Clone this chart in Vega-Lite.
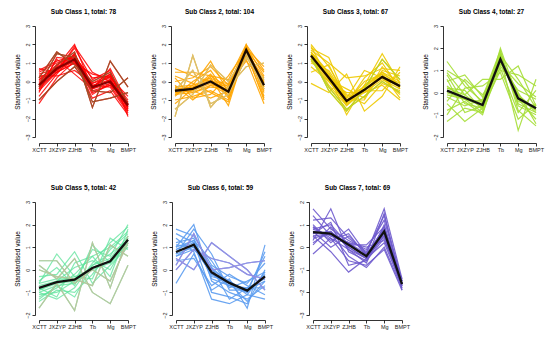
{
"$schema": "https://vega.github.io/schema/vega-lite/v6.json",
"background": "white",
"padding": {"left": 14, "top": 8, "right": 5, "bottom": 5},
"config": {"font": "Liberation Sans", "view": {"stroke": null},
  "axis": {"grid": false, "domainColor": "#000", "tickColor": "#000", "labelColor": "#222", "labelFontSize": 5.5, "titleFontSize": 6.5, "titleFontWeight": "normal", "titleColor": "#000", "tickSize": 3, "domainWidth": 0.8, "tickWidth": 0.8, "labelPadding": 1.5},
  "axisX": {"labelAngle": 0, "offset": 6},
  "axisY": {"labelAngle": -90, "offset": 4, "titlePadding": 5},
  "title": {"fontSize": 6.5, "fontWeight": "bold", "offset": 9, "color": "#000", "anchor": "middle"},
  "line": {"strokeWidth": 1.2}
},
"datasets": {
"c1": [
{"id":0,"k":"XCTT","v":-0.2},{"id":0,"k":"JXZYP","v":0.7},{"id":0,"k":"ZJHB","v":1.2},{"id":0,"k":"Tb","v":-0.3},{"id":0,"k":"Mg","v":0.0},{"id":0,"k":"BMPT","v":-1.3},
{"id":1,"k":"XCTT","v":0.5},{"id":1,"k":"JXZYP","v":1.0},{"id":1,"k":"ZJHB","v":1.3},{"id":1,"k":"Tb","v":0.2},{"id":1,"k":"Mg","v":0.3},{"id":1,"k":"BMPT","v":-1.0},
{"id":2,"k":"XCTT","v":-0.8},{"id":2,"k":"JXZYP","v":0.4},{"id":2,"k":"ZJHB","v":1.5},{"id":2,"k":"Tb","v":-0.6},{"id":2,"k":"Mg","v":-0.2},{"id":2,"k":"BMPT","v":-1.6},
{"id":3,"k":"XCTT","v":0.2},{"id":3,"k":"JXZYP","v":1.6},{"id":3,"k":"ZJHB","v":0.9},{"id":3,"k":"Tb","v":0.0},{"id":3,"k":"Mg","v":0.5},{"id":3,"k":"BMPT","v":-1.2},
{"id":4,"k":"XCTT","v":-1.2},{"id":4,"k":"JXZYP","v":0.2},{"id":4,"k":"ZJHB","v":1.1},{"id":4,"k":"Tb","v":-0.9},{"id":4,"k":"Mg","v":-0.5},{"id":4,"k":"BMPT","v":-1.8},
{"id":5,"k":"XCTT","v":0.0},{"id":5,"k":"JXZYP","v":0.8},{"id":5,"k":"ZJHB","v":2.0},{"id":5,"k":"Tb","v":-0.4},{"id":5,"k":"Mg","v":0.1},{"id":5,"k":"BMPT","v":-1.4},
{"id":6,"k":"XCTT","v":-0.5},{"id":6,"k":"JXZYP","v":0.5},{"id":6,"k":"ZJHB","v":1.0},{"id":6,"k":"Tb","v":0.4},{"id":6,"k":"Mg","v":0.2},{"id":6,"k":"BMPT","v":-0.8},
{"id":7,"k":"XCTT","v":0.6},{"id":7,"k":"JXZYP","v":1.1},{"id":7,"k":"ZJHB","v":1.4},{"id":7,"k":"Tb","v":-0.2},{"id":7,"k":"Mg","v":-0.3},{"id":7,"k":"BMPT","v":-1.7},
{"id":8,"k":"XCTT","v":-0.3},{"id":8,"k":"JXZYP","v":0.9},{"id":8,"k":"ZJHB","v":1.6},{"id":8,"k":"Tb","v":-1.4},{"id":8,"k":"Mg","v":1.1},{"id":8,"k":"BMPT","v":-0.3},
{"id":9,"k":"XCTT","v":0.3},{"id":9,"k":"JXZYP","v":0.3},{"id":9,"k":"ZJHB","v":0.6},{"id":9,"k":"Tb","v":-0.1},{"id":9,"k":"Mg","v":0.4},{"id":9,"k":"BMPT","v":-1.5},
{"id":10,"k":"XCTT","v":-0.6},{"id":10,"k":"JXZYP","v":1.3},{"id":10,"k":"ZJHB","v":1.2},{"id":10,"k":"Tb","v":-0.7},{"id":10,"k":"Mg","v":-0.1},{"id":10,"k":"BMPT","v":-1.1},
{"id":11,"k":"XCTT","v":0.1},{"id":11,"k":"JXZYP","v":0.6},{"id":11,"k":"ZJHB","v":1.8},{"id":11,"k":"Tb","v":0.1},{"id":11,"k":"Mg","v":0.6},{"id":11,"k":"BMPT","v":-1.9},
{"id":12,"k":"XCTT","v":-1.0},{"id":12,"k":"JXZYP","v":0.0},{"id":12,"k":"ZJHB","v":0.8},{"id":12,"k":"Tb","v":-0.5},{"id":12,"k":"Mg","v":-0.6},{"id":12,"k":"BMPT","v":0.2},
{"id":13,"k":"XCTT","v":0.4},{"id":13,"k":"JXZYP","v":0.7},{"id":13,"k":"ZJHB","v":1.1},{"id":13,"k":"Tb","v":-0.3},{"id":13,"k":"Mg","v":0.3},{"id":13,"k":"BMPT","v":-1.3},
{"id":14,"k":"XCTT","v":-0.2},{"id":14,"k":"JXZYP","v":1.5},{"id":14,"k":"ZJHB","v":1.3},{"id":14,"k":"Tb","v":-1.1},{"id":14,"k":"Mg","v":-0.9},{"id":14,"k":"BMPT","v":-0.6},
{"id":15,"k":"XCTT","v":0.7},{"id":15,"k":"JXZYP","v":0.5},{"id":15,"k":"ZJHB","v":1.9},{"id":15,"k":"Tb","v":0.5},{"id":15,"k":"Mg","v":0.0},{"id":15,"k":"BMPT","v":-1.6},
{"id":16,"k":"XCTT","v":-0.4},{"id":16,"k":"JXZYP","v":1.2},{"id":16,"k":"ZJHB","v":0.4},{"id":16,"k":"Tb","v":-0.4},{"id":16,"k":"Mg","v":0.7},{"id":16,"k":"BMPT","v":-1.2},
{"id":17,"k":"XCTT","v":-0.1},{"id":17,"k":"JXZYP","v":0.8},{"id":17,"k":"ZJHB","v":1.3},{"id":17,"k":"Tb","v":-0.2},{"id":17,"k":"Mg","v":0.1},{"id":17,"k":"BMPT","v":-1.2},
{"id":18,"k":"XCTT","v":-0.4},{"id":18,"k":"JXZYP","v":0.6},{"id":18,"k":"ZJHB","v":1.1},{"id":18,"k":"Tb","v":-0.4},{"id":18,"k":"Mg","v":-0.1},{"id":18,"k":"BMPT","v":-1.4},
{"id":19,"k":"XCTT","v":0.1},{"id":19,"k":"JXZYP","v":0.9},{"id":19,"k":"ZJHB","v":1.4},{"id":19,"k":"Tb","v":-0.1},{"id":19,"k":"Mg","v":0.2},{"id":19,"k":"BMPT","v":-1.5},
{"id":20,"k":"XCTT","v":-0.3},{"id":20,"k":"JXZYP","v":0.5},{"id":20,"k":"ZJHB","v":1.0},{"id":20,"k":"Tb","v":-0.5},{"id":20,"k":"Mg","v":-0.2},{"id":20,"k":"BMPT","v":-1.1},
{"id":21,"k":"XCTT","v":0.2},{"id":21,"k":"JXZYP","v":0.7},{"id":21,"k":"ZJHB","v":1.5},{"id":21,"k":"Tb","v":-0.3},{"id":21,"k":"Mg","v":0.4},{"id":21,"k":"BMPT","v":-1.4}
],
"c2": [
{"id":0,"k":"XCTT","v":-0.5},{"id":0,"k":"JXZYP","v":-0.4},{"id":0,"k":"ZJHB","v":0.0},{"id":0,"k":"Tb","v":-0.55},{"id":0,"k":"Mg","v":1.7},{"id":0,"k":"BMPT","v":-0.2},
{"id":1,"k":"XCTT","v":0.0},{"id":1,"k":"JXZYP","v":0.2},{"id":1,"k":"ZJHB","v":0.8},{"id":1,"k":"Tb","v":-0.2},{"id":1,"k":"Mg","v":1.9},{"id":1,"k":"BMPT","v":0.3},
{"id":2,"k":"XCTT","v":-1.0},{"id":2,"k":"JXZYP","v":-0.8},{"id":2,"k":"ZJHB","v":-0.5},{"id":2,"k":"Tb","v":-1.0},{"id":2,"k":"Mg","v":1.5},{"id":2,"k":"BMPT","v":-0.9},
{"id":3,"k":"XCTT","v":0.5},{"id":3,"k":"JXZYP","v":0.5},{"id":3,"k":"ZJHB","v":0.3},{"id":3,"k":"Tb","v":0.1},{"id":3,"k":"Mg","v":2.0},{"id":3,"k":"BMPT","v":-0.5},
{"id":4,"k":"XCTT","v":-0.7},{"id":4,"k":"JXZYP","v":-0.2},{"id":4,"k":"ZJHB","v":1.1},{"id":4,"k":"Tb","v":-0.6},{"id":4,"k":"Mg","v":1.6},{"id":4,"k":"BMPT","v":0.2},
{"id":5,"k":"XCTT","v":-0.3},{"id":5,"k":"JXZYP","v":-0.6},{"id":5,"k":"ZJHB","v":-0.3},{"id":5,"k":"Tb","v":-0.4},{"id":5,"k":"Mg","v":1.2},{"id":5,"k":"BMPT","v":-1.2},
{"id":6,"k":"XCTT","v":-1.9},{"id":6,"k":"JXZYP","v":1.4},{"id":6,"k":"ZJHB","v":-1.4},{"id":6,"k":"Tb","v":-0.3},{"id":6,"k":"Mg","v":0.8},{"id":6,"k":"BMPT","v":1.0},
{"id":7,"k":"XCTT","v":-0.4},{"id":7,"k":"JXZYP","v":-0.3},{"id":7,"k":"ZJHB","v":0.2},{"id":7,"k":"Tb","v":-1.3},{"id":7,"k":"Mg","v":1.8},{"id":7,"k":"BMPT","v":-0.6},
{"id":8,"k":"XCTT","v":0.2},{"id":8,"k":"JXZYP","v":-0.9},{"id":8,"k":"ZJHB","v":-0.7},{"id":8,"k":"Tb","v":0.3},{"id":8,"k":"Mg","v":1.7},{"id":8,"k":"BMPT","v":0.5},
{"id":9,"k":"XCTT","v":-0.8},{"id":9,"k":"JXZYP","v":0.0},{"id":9,"k":"ZJHB","v":0.6},{"id":9,"k":"Tb","v":-0.8},{"id":9,"k":"Mg","v":1.4},{"id":9,"k":"BMPT","v":-0.1},
{"id":10,"k":"XCTT","v":-0.6},{"id":10,"k":"JXZYP","v":-0.5},{"id":10,"k":"ZJHB","v":-0.9},{"id":10,"k":"Tb","v":-0.5},{"id":10,"k":"Mg","v":1.9},{"id":10,"k":"BMPT","v":-0.8},
{"id":11,"k":"XCTT","v":0.7},{"id":11,"k":"JXZYP","v":0.3},{"id":11,"k":"ZJHB","v":0.0},{"id":11,"k":"Tb","v":-0.1},{"id":11,"k":"Mg","v":1.1},{"id":11,"k":"BMPT","v":0.0},
{"id":12,"k":"XCTT","v":-1.2},{"id":12,"k":"JXZYP","v":-0.4},{"id":12,"k":"ZJHB","v":0.4},{"id":12,"k":"Tb","v":-0.9},{"id":12,"k":"Mg","v":2.0},{"id":12,"k":"BMPT","v":0.6},
{"id":13,"k":"XCTT","v":-0.2},{"id":13,"k":"JXZYP","v":-1.0},{"id":13,"k":"ZJHB","v":-0.2},{"id":13,"k":"Tb","v":-0.2},{"id":13,"k":"Mg","v":1.6},{"id":13,"k":"BMPT","v":-1.0},
{"id":14,"k":"XCTT","v":-0.5},{"id":14,"k":"JXZYP","v":0.6},{"id":14,"k":"ZJHB","v":-1.2},{"id":14,"k":"Tb","v":-0.7},{"id":14,"k":"Mg","v":1.3},{"id":14,"k":"BMPT","v":0.1},
{"id":15,"k":"XCTT","v":-1.5},{"id":15,"k":"JXZYP","v":-0.7},{"id":15,"k":"ZJHB","v":0.9},{"id":15,"k":"Tb","v":0.0},{"id":15,"k":"Mg","v":1.5},{"id":15,"k":"BMPT","v":-0.4},
{"id":16,"k":"XCTT","v":0.3},{"id":16,"k":"JXZYP","v":-0.1},{"id":16,"k":"ZJHB","v":-0.6},{"id":16,"k":"Tb","v":-1.1},{"id":16,"k":"Mg","v":1.8},{"id":16,"k":"BMPT","v":0.8},
{"id":17,"k":"XCTT","v":-0.4},{"id":17,"k":"JXZYP","v":-0.3},{"id":17,"k":"ZJHB","v":0.1},{"id":17,"k":"Tb","v":-0.5},{"id":17,"k":"Mg","v":1.6},{"id":17,"k":"BMPT","v":-0.3},
{"id":18,"k":"XCTT","v":-0.6},{"id":18,"k":"JXZYP","v":-0.5},{"id":18,"k":"ZJHB","v":-0.1},{"id":18,"k":"Tb","v":-0.6},{"id":18,"k":"Mg","v":1.8},{"id":18,"k":"BMPT","v":-0.1},
{"id":19,"k":"XCTT","v":-0.3},{"id":19,"k":"JXZYP","v":-0.2},{"id":19,"k":"ZJHB","v":0.2},{"id":19,"k":"Tb","v":-0.4},{"id":19,"k":"Mg","v":1.7},{"id":19,"k":"BMPT","v":0.0},
{"id":20,"k":"XCTT","v":-0.7},{"id":20,"k":"JXZYP","v":-0.6},{"id":20,"k":"ZJHB","v":-0.2},{"id":20,"k":"Tb","v":-0.7},{"id":20,"k":"Mg","v":1.6},{"id":20,"k":"BMPT","v":-0.4},
{"id":21,"k":"XCTT","v":-0.5},{"id":21,"k":"JXZYP","v":-0.4},{"id":21,"k":"ZJHB","v":0.3},{"id":21,"k":"Tb","v":-0.3},{"id":21,"k":"Mg","v":1.9},{"id":21,"k":"BMPT","v":-0.3}
],
"c3": [
{"id":0,"k":"XCTT","v":1.4},{"id":0,"k":"JXZYP","v":0.2},{"id":0,"k":"ZJHB","v":-1.05},{"id":0,"k":"Tb","v":-0.45},{"id":0,"k":"Mg","v":0.25},{"id":0,"k":"BMPT","v":-0.25},
{"id":1,"k":"XCTT","v":2.0},{"id":1,"k":"JXZYP","v":0.8},{"id":1,"k":"ZJHB","v":-0.8},{"id":1,"k":"Tb","v":-0.3},{"id":1,"k":"Mg","v":0.5},{"id":1,"k":"BMPT","v":0.0},
{"id":2,"k":"XCTT","v":1.2},{"id":2,"k":"JXZYP","v":-0.3},{"id":2,"k":"ZJHB","v":-1.5},{"id":2,"k":"Tb","v":-0.8},{"id":2,"k":"Mg","v":0.0},{"id":2,"k":"BMPT","v":-0.6},
{"id":3,"k":"XCTT","v":1.6},{"id":3,"k":"JXZYP","v":0.5},{"id":3,"k":"ZJHB","v":-1.2},{"id":3,"k":"Tb","v":0.2},{"id":3,"k":"Mg","v":1.0},{"id":3,"k":"BMPT","v":-0.4},
{"id":4,"k":"XCTT","v":0.8},{"id":4,"k":"JXZYP","v":0.0},{"id":4,"k":"ZJHB","v":-0.6},{"id":4,"k":"Tb","v":-0.6},{"id":4,"k":"Mg","v":-0.2},{"id":4,"k":"BMPT","v":-1.0},
{"id":5,"k":"XCTT","v":1.8},{"id":5,"k":"JXZYP","v":1.3},{"id":5,"k":"ZJHB","v":-1.0},{"id":5,"k":"Tb","v":-1.0},{"id":5,"k":"Mg","v":0.6},{"id":5,"k":"BMPT","v":0.3},
{"id":6,"k":"XCTT","v":-0.1},{"id":6,"k":"JXZYP","v":-0.6},{"id":6,"k":"ZJHB","v":0.4},{"id":6,"k":"Tb","v":-1.6},{"id":6,"k":"Mg","v":-0.8},{"id":6,"k":"BMPT","v":0.8},
{"id":7,"k":"XCTT","v":1.5},{"id":7,"k":"JXZYP","v":0.3},{"id":7,"k":"ZJHB","v":-1.8},{"id":7,"k":"Tb","v":-0.2},{"id":7,"k":"Mg","v":1.5},{"id":7,"k":"BMPT","v":-0.1},
{"id":8,"k":"XCTT","v":1.0},{"id":8,"k":"JXZYP","v":0.6},{"id":8,"k":"ZJHB","v":-0.9},{"id":8,"k":"Tb","v":0.6},{"id":8,"k":"Mg","v":0.2},{"id":8,"k":"BMPT","v":-0.7},
{"id":9,"k":"XCTT","v":1.3},{"id":9,"k":"JXZYP","v":-0.2},{"id":9,"k":"ZJHB","v":-1.3},{"id":9,"k":"Tb","v":-0.5},{"id":9,"k":"Mg","v":-0.5},{"id":9,"k":"BMPT","v":0.5},
{"id":10,"k":"XCTT","v":1.9},{"id":10,"k":"JXZYP","v":0.1},{"id":10,"k":"ZJHB","v":-0.4},{"id":10,"k":"Tb","v":-0.9},{"id":10,"k":"Mg","v":0.8},{"id":10,"k":"BMPT","v":-0.3},
{"id":11,"k":"XCTT","v":0.5},{"id":11,"k":"JXZYP","v":0.9},{"id":11,"k":"ZJHB","v":-1.1},{"id":11,"k":"Tb","v":0.0},{"id":11,"k":"Mg","v":0.4},{"id":11,"k":"BMPT","v":-0.9},
{"id":12,"k":"XCTT","v":1.4},{"id":12,"k":"JXZYP","v":-0.5},{"id":12,"k":"ZJHB","v":-1.6},{"id":12,"k":"Tb","v":-0.4},{"id":12,"k":"Mg","v":1.2},{"id":12,"k":"BMPT","v":0.1},
{"id":13,"k":"XCTT","v":1.1},{"id":13,"k":"JXZYP","v":0.4},{"id":13,"k":"ZJHB","v":-0.7},{"id":13,"k":"Tb","v":-1.2},{"id":13,"k":"Mg","v":-0.1},{"id":13,"k":"BMPT","v":-0.5},
{"id":14,"k":"XCTT","v":1.7},{"id":14,"k":"JXZYP","v":1.0},{"id":14,"k":"ZJHB","v":0.2},{"id":14,"k":"Tb","v":0.3},{"id":14,"k":"Mg","v":0.7},{"id":14,"k":"BMPT","v":0.6},
{"id":15,"k":"XCTT","v":1.5},{"id":15,"k":"JXZYP","v":0.3},{"id":15,"k":"ZJHB","v":-1.0},{"id":15,"k":"Tb","v":-0.4},{"id":15,"k":"Mg","v":0.3},{"id":15,"k":"BMPT","v":-0.2},
{"id":16,"k":"XCTT","v":1.3},{"id":16,"k":"JXZYP","v":0.1},{"id":16,"k":"ZJHB","v":-1.1},{"id":16,"k":"Tb","v":-0.5},{"id":16,"k":"Mg","v":0.2},{"id":16,"k":"BMPT","v":-0.3},
{"id":17,"k":"XCTT","v":1.6},{"id":17,"k":"JXZYP","v":0.4},{"id":17,"k":"ZJHB","v":-0.9},{"id":17,"k":"Tb","v":-0.3},{"id":17,"k":"Mg","v":0.4},{"id":17,"k":"BMPT","v":-0.1},
{"id":18,"k":"XCTT","v":1.2},{"id":18,"k":"JXZYP","v":0.0},{"id":18,"k":"ZJHB","v":-1.2},{"id":18,"k":"Tb","v":-0.6},{"id":18,"k":"Mg","v":0.1},{"id":18,"k":"BMPT","v":-0.4},
{"id":19,"k":"XCTT","v":1.4},{"id":19,"k":"JXZYP","v":0.2},{"id":19,"k":"ZJHB","v":-1.3},{"id":19,"k":"Tb","v":-0.2},{"id":19,"k":"Mg","v":0.5},{"id":19,"k":"BMPT","v":-0.3}
],
"c4": [
{"id":0,"k":"XCTT","v":0.09},{"id":0,"k":"JXZYP","v":-0.23},{"id":0,"k":"ZJHB","v":-0.56},{"id":0,"k":"Tb","v":1.5},{"id":0,"k":"Mg","v":-0.26},{"id":0,"k":"BMPT","v":-0.7},
{"id":1,"k":"XCTT","v":1.4},{"id":1,"k":"JXZYP","v":0.3},{"id":1,"k":"ZJHB","v":-0.4},{"id":1,"k":"Tb","v":1.7},{"id":1,"k":"Mg","v":-0.5},{"id":1,"k":"BMPT","v":-0.9},
{"id":2,"k":"XCTT","v":-1.3},{"id":2,"k":"JXZYP","v":-0.7},{"id":2,"k":"ZJHB","v":-0.9},{"id":2,"k":"Tb","v":1.2},{"id":2,"k":"Mg","v":0.1},{"id":2,"k":"BMPT","v":-0.3},
{"id":3,"k":"XCTT","v":0.5},{"id":3,"k":"JXZYP","v":0.8},{"id":3,"k":"ZJHB","v":-0.2},{"id":3,"k":"Tb","v":1.9},{"id":3,"k":"Mg","v":-0.8},{"id":3,"k":"BMPT","v":-1.5},
{"id":4,"k":"XCTT","v":-0.5},{"id":4,"k":"JXZYP","v":-1.3},{"id":4,"k":"ZJHB","v":-0.7},{"id":4,"k":"Tb","v":1.0},{"id":4,"k":"Mg","v":0.8},{"id":4,"k":"BMPT","v":0.3},
{"id":5,"k":"XCTT","v":0.9},{"id":5,"k":"JXZYP","v":-0.1},{"id":5,"k":"ZJHB","v":0.6},{"id":5,"k":"Tb","v":0.6},{"id":5,"k":"Mg","v":1.2},{"id":5,"k":"BMPT","v":-0.6},
{"id":6,"k":"XCTT","v":0.2},{"id":6,"k":"JXZYP","v":0.1},{"id":6,"k":"ZJHB","v":-0.8},{"id":6,"k":"Tb","v":2.0},{"id":6,"k":"Mg","v":-0.3},{"id":6,"k":"BMPT","v":-1.2},
{"id":7,"k":"XCTT","v":-0.8},{"id":7,"k":"JXZYP","v":-0.4},{"id":7,"k":"ZJHB","v":-1.0},{"id":7,"k":"Tb","v":1.6},{"id":7,"k":"Mg","v":-1.7},{"id":7,"k":"BMPT","v":0.6},
{"id":8,"k":"XCTT","v":1.0},{"id":8,"k":"JXZYP","v":0.5},{"id":8,"k":"ZJHB","v":-0.5},{"id":8,"k":"Tb","v":1.4},{"id":8,"k":"Mg","v":-0.1},{"id":8,"k":"BMPT","v":-0.8},
{"id":9,"k":"XCTT","v":-0.2},{"id":9,"k":"JXZYP","v":-0.6},{"id":9,"k":"ZJHB","v":-0.3},{"id":9,"k":"Tb","v":1.8},{"id":9,"k":"Mg","v":-0.6},{"id":9,"k":"BMPT","v":-1.0},
{"id":10,"k":"XCTT","v":0.6},{"id":10,"k":"JXZYP","v":-0.9},{"id":10,"k":"ZJHB","v":-0.6},{"id":10,"k":"Tb","v":1.3},{"id":10,"k":"Mg","v":0.4},{"id":10,"k":"BMPT","v":-0.2},
{"id":11,"k":"XCTT","v":-1.0},{"id":11,"k":"JXZYP","v":0.2},{"id":11,"k":"ZJHB","v":0.3},{"id":11,"k":"Tb","v":0.9},{"id":11,"k":"Mg","v":-1.2},{"id":11,"k":"BMPT","v":-0.5},
{"id":12,"k":"XCTT","v":0.3},{"id":12,"k":"JXZYP","v":-0.3},{"id":12,"k":"ZJHB","v":-0.9},{"id":12,"k":"Tb","v":1.5},{"id":12,"k":"Mg","v":0.0},{"id":12,"k":"BMPT","v":-1.4},
{"id":13,"k":"XCTT","v":-0.4},{"id":13,"k":"JXZYP","v":0.6},{"id":13,"k":"ZJHB","v":-0.1},{"id":13,"k":"Tb","v":1.1},{"id":13,"k":"Mg","v":-0.9},{"id":13,"k":"BMPT","v":0.1},
{"id":14,"k":"XCTT","v":0.8},{"id":14,"k":"JXZYP","v":-0.5},{"id":14,"k":"ZJHB","v":-0.7},{"id":14,"k":"Tb","v":1.7},{"id":14,"k":"Mg","v":0.6},{"id":14,"k":"BMPT","v":-0.7},
{"id":15,"k":"XCTT","v":0.1},{"id":15,"k":"JXZYP","v":-0.2},{"id":15,"k":"ZJHB","v":-0.5},{"id":15,"k":"Tb","v":1.6},{"id":15,"k":"Mg","v":-0.3},{"id":15,"k":"BMPT","v":-0.7},
{"id":16,"k":"XCTT","v":0.0},{"id":16,"k":"JXZYP","v":-0.3},{"id":16,"k":"ZJHB","v":-0.6},{"id":16,"k":"Tb","v":1.4},{"id":16,"k":"Mg","v":-0.2},{"id":16,"k":"BMPT","v":-0.8},
{"id":17,"k":"XCTT","v":0.2},{"id":17,"k":"JXZYP","v":-0.1},{"id":17,"k":"ZJHB","v":-0.7},{"id":17,"k":"Tb","v":1.5},{"id":17,"k":"Mg","v":-0.4},{"id":17,"k":"BMPT","v":-0.6},
{"id":18,"k":"XCTT","v":-0.1},{"id":18,"k":"JXZYP","v":-0.3},{"id":18,"k":"ZJHB","v":-0.4},{"id":18,"k":"Tb","v":1.6},{"id":18,"k":"Mg","v":-0.1},{"id":18,"k":"BMPT","v":-0.9}
],
"c5": [
{"id":0,"k":"XCTT","v":-0.8},{"id":0,"k":"JXZYP","v":-0.55},{"id":0,"k":"ZJHB","v":-0.44},{"id":0,"k":"Tb","v":0.08},{"id":0,"k":"Mg","v":0.38},{"id":0,"k":"BMPT","v":1.33},
{"id":1,"k":"XCTT","v":-1.2},{"id":1,"k":"JXZYP","v":-0.8},{"id":1,"k":"ZJHB","v":-0.2},{"id":1,"k":"Tb","v":0.6},{"id":1,"k":"Mg","v":1.0},{"id":1,"k":"BMPT","v":1.7},
{"id":2,"k":"XCTT","v":0.4},{"id":2,"k":"JXZYP","v":0.4},{"id":2,"k":"ZJHB","v":-0.6},{"id":2,"k":"Tb","v":0.0},{"id":2,"k":"Mg","v":-0.5},{"id":2,"k":"BMPT","v":1.2},
{"id":3,"k":"XCTT","v":-1.0},{"id":3,"k":"JXZYP","v":-1.3},{"id":3,"k":"ZJHB","v":-0.8},{"id":3,"k":"Tb","v":0.3},{"id":3,"k":"Mg","v":1.2},{"id":3,"k":"BMPT","v":1.9},
{"id":4,"k":"XCTT","v":-0.3},{"id":4,"k":"JXZYP","v":-0.2},{"id":4,"k":"ZJHB","v":0.8},{"id":4,"k":"Tb","v":-0.6},{"id":4,"k":"Mg","v":0.2},{"id":4,"k":"BMPT","v":1.0},
{"id":5,"k":"XCTT","v":-1.7},{"id":5,"k":"JXZYP","v":-0.6},{"id":5,"k":"ZJHB","v":-1.8},{"id":5,"k":"Tb","v":1.2},{"id":5,"k":"Mg","v":-0.8},{"id":5,"k":"BMPT","v":1.5},
{"id":6,"k":"XCTT","v":-0.6},{"id":6,"k":"JXZYP","v":0.7},{"id":6,"k":"ZJHB","v":-0.3},{"id":6,"k":"Tb","v":-0.4},{"id":6,"k":"Mg","v":1.4},{"id":6,"k":"BMPT","v":0.9},
{"id":7,"k":"XCTT","v":-1.1},{"id":7,"k":"JXZYP","v":-1.0},{"id":7,"k":"ZJHB","v":-0.5},{"id":7,"k":"Tb","v":0.9},{"id":7,"k":"Mg","v":0.6},{"id":7,"k":"BMPT","v":2.0},
{"id":8,"k":"XCTT","v":0.2},{"id":8,"k":"JXZYP","v":-0.4},{"id":8,"k":"ZJHB","v":0.5},{"id":8,"k":"Tb","v":-1.0},{"id":8,"k":"Mg","v":-1.5},{"id":8,"k":"BMPT","v":0.2},
{"id":9,"k":"XCTT","v":-0.9},{"id":9,"k":"JXZYP","v":-0.5},{"id":9,"k":"ZJHB","v":0.1},{"id":9,"k":"Tb","v":0.4},{"id":9,"k":"Mg","v":0.0},{"id":9,"k":"BMPT","v":1.4},
{"id":10,"k":"XCTT","v":-1.4},{"id":10,"k":"JXZYP","v":-0.9},{"id":10,"k":"ZJHB","v":-1.0},{"id":10,"k":"Tb","v":-0.2},{"id":10,"k":"Mg","v":0.9},{"id":10,"k":"BMPT","v":1.6},
{"id":11,"k":"XCTT","v":-0.5},{"id":11,"k":"JXZYP","v":0.1},{"id":11,"k":"ZJHB","v":-0.7},{"id":11,"k":"Tb","v":1.1},{"id":11,"k":"Mg","v":0.3},{"id":11,"k":"BMPT","v":1.1},
{"id":12,"k":"XCTT","v":-0.8},{"id":12,"k":"JXZYP","v":-1.2},{"id":12,"k":"ZJHB","v":0.3},{"id":12,"k":"Tb","v":0.6},{"id":12,"k":"Mg","v":-0.3},{"id":12,"k":"BMPT","v":1.8},
{"id":13,"k":"XCTT","v":0.0},{"id":13,"k":"JXZYP","v":-0.3},{"id":13,"k":"ZJHB","v":-0.4},{"id":13,"k":"Tb","v":-0.7},{"id":13,"k":"Mg","v":1.1},{"id":13,"k":"BMPT","v":0.6},
{"id":14,"k":"XCTT","v":-1.3},{"id":14,"k":"JXZYP","v":-0.7},{"id":14,"k":"ZJHB","v":-1.2},{"id":14,"k":"Tb","v":0.2},{"id":14,"k":"Mg","v":0.7},{"id":14,"k":"BMPT","v":1.3},
{"id":15,"k":"XCTT","v":-0.9},{"id":15,"k":"JXZYP","v":-0.6},{"id":15,"k":"ZJHB","v":-0.5},{"id":15,"k":"Tb","v":0.1},{"id":15,"k":"Mg","v":0.4},{"id":15,"k":"BMPT","v":1.4},
{"id":16,"k":"XCTT","v":-0.7},{"id":16,"k":"JXZYP","v":-0.5},{"id":16,"k":"ZJHB","v":-0.3},{"id":16,"k":"Tb","v":0.0},{"id":16,"k":"Mg","v":0.3},{"id":16,"k":"BMPT","v":1.2},
{"id":17,"k":"XCTT","v":-1.0},{"id":17,"k":"JXZYP","v":-0.7},{"id":17,"k":"ZJHB","v":-0.6},{"id":17,"k":"Tb","v":0.2},{"id":17,"k":"Mg","v":0.5},{"id":17,"k":"BMPT","v":1.5},
{"id":18,"k":"XCTT","v":-0.6},{"id":18,"k":"JXZYP","v":-0.4},{"id":18,"k":"ZJHB","v":-0.4},{"id":18,"k":"Tb","v":0.1},{"id":18,"k":"Mg","v":0.4},{"id":18,"k":"BMPT","v":1.3}
],
"c6": [
{"id":0,"k":"XCTT","v":0.79},{"id":0,"k":"JXZYP","v":1.11},{"id":0,"k":"ZJHB","v":-0.11},{"id":0,"k":"Tb","v":-0.58},{"id":0,"k":"Mg","v":-0.92},{"id":0,"k":"BMPT","v":-0.29},
{"id":1,"k":"XCTT","v":1.8},{"id":1,"k":"JXZYP","v":1.5},{"id":1,"k":"ZJHB","v":0.2},{"id":1,"k":"Tb","v":-0.3},{"id":1,"k":"Mg","v":-0.6},{"id":1,"k":"BMPT","v":0.3},
{"id":2,"k":"XCTT","v":0.5},{"id":2,"k":"JXZYP","v":0.0},{"id":2,"k":"ZJHB","v":1.2},{"id":2,"k":"Tb","v":0.6},{"id":2,"k":"Mg","v":0.0},{"id":2,"k":"BMPT","v":-0.9},
{"id":3,"k":"XCTT","v":1.0},{"id":3,"k":"JXZYP","v":2.0},{"id":3,"k":"ZJHB","v":-0.5},{"id":3,"k":"Tb","v":-1.0},{"id":3,"k":"Mg","v":-1.3},{"id":3,"k":"BMPT","v":-0.7},
{"id":4,"k":"XCTT","v":-0.6},{"id":4,"k":"JXZYP","v":0.7},{"id":4,"k":"ZJHB","v":-0.9},{"id":4,"k":"Tb","v":-0.4},{"id":4,"k":"Mg","v":-1.7},{"id":4,"k":"BMPT","v":1.1},
{"id":5,"k":"XCTT","v":0.9},{"id":5,"k":"JXZYP","v":1.3},{"id":5,"k":"ZJHB","v":0.4},{"id":5,"k":"Tb","v":-0.8},{"id":5,"k":"Mg","v":-0.5},{"id":5,"k":"BMPT","v":-0.1},
{"id":6,"k":"XCTT","v":1.4},{"id":6,"k":"JXZYP","v":0.8},{"id":6,"k":"ZJHB","v":-1.3},{"id":6,"k":"Tb","v":-1.5},{"id":6,"k":"Mg","v":-1.1},{"id":6,"k":"BMPT","v":-1.3},
{"id":7,"k":"XCTT","v":0.2},{"id":7,"k":"JXZYP","v":1.6},{"id":7,"k":"ZJHB","v":0.0},{"id":7,"k":"Tb","v":0.1},{"id":7,"k":"Mg","v":0.3},{"id":7,"k":"BMPT","v":0.4},
{"id":8,"k":"XCTT","v":1.1},{"id":8,"k":"JXZYP","v":1.0},{"id":8,"k":"ZJHB","v":-0.2},{"id":8,"k":"Tb","v":-0.6},{"id":8,"k":"Mg","v":-1.4},{"id":8,"k":"BMPT","v":-0.5},
{"id":9,"k":"XCTT","v":0.7},{"id":9,"k":"JXZYP","v":1.8},{"id":9,"k":"ZJHB","v":0.7},{"id":9,"k":"Tb","v":-0.9},{"id":9,"k":"Mg","v":-0.9},{"id":9,"k":"BMPT","v":0.6},
{"id":10,"k":"XCTT","v":0.4},{"id":10,"k":"JXZYP","v":0.5},{"id":10,"k":"ZJHB","v":-0.7},{"id":10,"k":"Tb","v":-0.2},{"id":10,"k":"Mg","v":-0.7},{"id":10,"k":"BMPT","v":-1.1},
{"id":11,"k":"XCTT","v":1.6},{"id":11,"k":"JXZYP","v":1.2},{"id":11,"k":"ZJHB","v":-1.0},{"id":11,"k":"Tb","v":-1.2},{"id":11,"k":"Mg","v":-1.5},{"id":11,"k":"BMPT","v":0.0},
{"id":12,"k":"XCTT","v":0.0},{"id":12,"k":"JXZYP","v":0.9},{"id":12,"k":"ZJHB","v":0.5},{"id":12,"k":"Tb","v":0.3},{"id":12,"k":"Mg","v":-0.2},{"id":12,"k":"BMPT","v":-0.4},
{"id":13,"k":"XCTT","v":1.2},{"id":13,"k":"JXZYP","v":1.4},{"id":13,"k":"ZJHB","v":-0.4},{"id":13,"k":"Tb","v":-0.7},{"id":13,"k":"Mg","v":-1.0},{"id":13,"k":"BMPT","v":0.8},
{"id":14,"k":"XCTT","v":0.6},{"id":14,"k":"JXZYP","v":1.1},{"id":14,"k":"ZJHB","v":0.1},{"id":14,"k":"Tb","v":-1.3},{"id":14,"k":"Mg","v":-0.8},{"id":14,"k":"BMPT","v":-0.8},
{"id":15,"k":"XCTT","v":0.8},{"id":15,"k":"JXZYP","v":1.1},{"id":15,"k":"ZJHB","v":-0.1},{"id":15,"k":"Tb","v":-0.6},{"id":15,"k":"Mg","v":-0.9},{"id":15,"k":"BMPT","v":-0.3},
{"id":16,"k":"XCTT","v":0.9},{"id":16,"k":"JXZYP","v":1.2},{"id":16,"k":"ZJHB","v":0.0},{"id":16,"k":"Tb","v":-0.5},{"id":16,"k":"Mg","v":-1.0},{"id":16,"k":"BMPT","v":-0.2},
{"id":17,"k":"XCTT","v":0.7},{"id":17,"k":"JXZYP","v":1.0},{"id":17,"k":"ZJHB","v":-0.2},{"id":17,"k":"Tb","v":-0.7},{"id":17,"k":"Mg","v":-0.8},{"id":17,"k":"BMPT","v":-0.4},
{"id":18,"k":"XCTT","v":1.0},{"id":18,"k":"JXZYP","v":1.3},{"id":18,"k":"ZJHB","v":-0.3},{"id":18,"k":"Tb","v":-0.5},{"id":18,"k":"Mg","v":-1.1},{"id":18,"k":"BMPT","v":-0.1},
{"id":19,"k":"XCTT","v":0.6},{"id":19,"k":"JXZYP","v":0.9},{"id":19,"k":"ZJHB","v":0.1},{"id":19,"k":"Tb","v":-0.6},{"id":19,"k":"Mg","v":-0.9},{"id":19,"k":"BMPT","v":-0.5}
],
"c7": [
{"id":0,"k":"XCTT","v":0.67},{"id":0,"k":"JXZYP","v":0.6},{"id":0,"k":"ZJHB","v":0.11},{"id":0,"k":"Tb","v":-0.4},{"id":0,"k":"Mg","v":0.7},{"id":0,"k":"BMPT","v":-1.63},
{"id":1,"k":"XCTT","v":1.7},{"id":1,"k":"JXZYP","v":0.8},{"id":1,"k":"ZJHB","v":0.3},{"id":1,"k":"Tb","v":-0.1},{"id":1,"k":"Mg","v":1.2},{"id":1,"k":"BMPT","v":-1.5},
{"id":2,"k":"XCTT","v":0.3},{"id":2,"k":"JXZYP","v":1.7},{"id":2,"k":"ZJHB","v":-0.2},{"id":2,"k":"Tb","v":-0.6},{"id":2,"k":"Mg","v":0.4},{"id":2,"k":"BMPT","v":-1.8},
{"id":3,"k":"XCTT","v":1.0},{"id":3,"k":"JXZYP","v":0.2},{"id":3,"k":"ZJHB","v":0.8},{"id":3,"k":"Tb","v":-0.3},{"id":3,"k":"Mg","v":1.7},{"id":3,"k":"BMPT","v":-1.4},
{"id":4,"k":"XCTT","v":-0.3},{"id":4,"k":"JXZYP","v":0.4},{"id":4,"k":"ZJHB","v":-0.6},{"id":4,"k":"Tb","v":-0.8},{"id":4,"k":"Mg","v":-0.1},{"id":4,"k":"BMPT","v":-1.9},
{"id":5,"k":"XCTT","v":0.8},{"id":5,"k":"JXZYP","v":1.0},{"id":5,"k":"ZJHB","v":0.1},{"id":5,"k":"Tb","v":0.1},{"id":5,"k":"Mg","v":0.9},{"id":5,"k":"BMPT","v":-1.6},
{"id":6,"k":"XCTT","v":0.5},{"id":6,"k":"JXZYP","v":-0.2},{"id":6,"k":"ZJHB","v":-1.1},{"id":6,"k":"Tb","v":-0.5},{"id":6,"k":"Mg","v":0.2},{"id":6,"k":"BMPT","v":-1.7},
{"id":7,"k":"XCTT","v":1.2},{"id":7,"k":"JXZYP","v":1.3},{"id":7,"k":"ZJHB","v":0.4},{"id":7,"k":"Tb","v":-0.2},{"id":7,"k":"Mg","v":1.4},{"id":7,"k":"BMPT","v":-1.5},
{"id":8,"k":"XCTT","v":0.4},{"id":8,"k":"JXZYP","v":0.6},{"id":8,"k":"ZJHB","v":-0.4},{"id":8,"k":"Tb","v":-0.9},{"id":8,"k":"Mg","v":0.0},{"id":8,"k":"BMPT","v":-1.8},
{"id":9,"k":"XCTT","v":0.9},{"id":9,"k":"JXZYP","v":0.3},{"id":9,"k":"ZJHB","v":0.6},{"id":9,"k":"Tb","v":-0.4},{"id":9,"k":"Mg","v":0.6},{"id":9,"k":"BMPT","v":-1.6},
{"id":10,"k":"XCTT","v":0.1},{"id":10,"k":"JXZYP","v":0.9},{"id":10,"k":"ZJHB","v":-0.1},{"id":10,"k":"Tb","v":-0.7},{"id":10,"k":"Mg","v":1.0},{"id":10,"k":"BMPT","v":-1.7},
{"id":11,"k":"XCTT","v":1.4},{"id":11,"k":"JXZYP","v":0.5},{"id":11,"k":"ZJHB","v":0.2},{"id":11,"k":"Tb","v":0.0},{"id":11,"k":"Mg","v":0.3},{"id":11,"k":"BMPT","v":-1.4},
{"id":12,"k":"XCTT","v":0.6},{"id":12,"k":"JXZYP","v":1.1},{"id":12,"k":"ZJHB","v":-0.8},{"id":12,"k":"Tb","v":-0.6},{"id":12,"k":"Mg","v":1.5},{"id":12,"k":"BMPT","v":-1.9},
{"id":13,"k":"XCTT","v":0.7},{"id":13,"k":"JXZYP","v":0.0},{"id":13,"k":"ZJHB","v":0.5},{"id":13,"k":"Tb","v":-0.3},{"id":13,"k":"Mg","v":0.8},{"id":13,"k":"BMPT","v":-1.5},
{"id":14,"k":"XCTT","v":0.2},{"id":14,"k":"JXZYP","v":0.7},{"id":14,"k":"ZJHB","v":0.0},{"id":14,"k":"Tb","v":-0.5},{"id":14,"k":"Mg","v":0.5},{"id":14,"k":"BMPT","v":-1.6},
{"id":15,"k":"XCTT","v":0.7},{"id":15,"k":"JXZYP","v":0.6},{"id":15,"k":"ZJHB","v":0.1},{"id":15,"k":"Tb","v":-0.4},{"id":15,"k":"Mg","v":0.7},{"id":15,"k":"BMPT","v":-1.6},
{"id":16,"k":"XCTT","v":0.8},{"id":16,"k":"JXZYP","v":0.5},{"id":16,"k":"ZJHB","v":0.2},{"id":16,"k":"Tb","v":-0.3},{"id":16,"k":"Mg","v":0.8},{"id":16,"k":"BMPT","v":-1.7},
{"id":17,"k":"XCTT","v":0.6},{"id":17,"k":"JXZYP","v":0.7},{"id":17,"k":"ZJHB","v":0.0},{"id":17,"k":"Tb","v":-0.5},{"id":17,"k":"Mg","v":0.6},{"id":17,"k":"BMPT","v":-1.6},
{"id":18,"k":"XCTT","v":0.5},{"id":18,"k":"JXZYP","v":0.6},{"id":18,"k":"ZJHB","v":0.2},{"id":18,"k":"Tb","v":-0.4},{"id":18,"k":"Mg","v":0.9},{"id":18,"k":"BMPT","v":-1.5},
{"id":19,"k":"XCTT","v":0.9},{"id":19,"k":"JXZYP","v":0.4},{"id":19,"k":"ZJHB","v":-0.1},{"id":19,"k":"Tb","v":-0.5},{"id":19,"k":"Mg","v":0.5},{"id":19,"k":"BMPT","v":-1.7}
]
},
"vconcat": [
{"hconcat": [
{"title": "Sub Class 1, total: 78", "width": 89, "height": 111, "data": {"name": "c1"},
 "encoding": {"x": {"field": "k", "type": "ordinal", "sort": ["XCTT","JXZYP","ZJHB","Tb","Mg","BMPT"], "scale": {"type": "point", "padding": 0}, "axis": {"title": null}},
  "y": {"field": "v", "type": "quantitative", "scale": {"domain": [-3, 3]}, "axis": {"values": [-3,-2,-1,0,1,2,3], "title": "Standardised value"}}},
 "layer": [
  {"transform": [{"filter": "datum.id > 0"}], "mark": {"type": "line", "color": "#ff0000", "opacity": 0.85}, "encoding": {"detail": {"field": "id"}}},
  {"transform": [{"filter": {"field": "id", "oneOf": [3, 8, 12, 14]}}], "mark": {"type": "line", "color": "#8b5a2b", "opacity": 0.8}, "encoding": {"detail": {"field": "id"}}},
  {"transform": [{"filter": "datum.id === 0"}], "mark": {"type": "line", "color": "#8b0000", "strokeWidth": 2.3}, "encoding": {}}
 ]},
{"title": "Sub Class 2, total: 104", "width": 89, "height": 111, "data": {"name": "c2"},
 "encoding": {"x": {"field": "k", "type": "ordinal", "sort": ["XCTT","JXZYP","ZJHB","Tb","Mg","BMPT"], "scale": {"type": "point", "padding": 0}, "axis": {"title": null}},
  "y": {"field": "v", "type": "quantitative", "scale": {"domain": [-3, 3]}, "axis": {"values": [-3,-2,-1,0,1,2,3], "title": "Standardised value"}}},
 "layer": [
  {"transform": [{"filter": "datum.id > 0"}], "mark": {"type": "line", "color": "#ffa500", "opacity": 0.9}, "encoding": {"detail": {"field": "id"}}},
  {"transform": [{"filter": {"field": "id", "oneOf": [6, 14, 15]}}], "mark": {"type": "line", "color": "#d4c27a", "opacity": 0.9}, "encoding": {"detail": {"field": "id"}}},
  {"transform": [{"filter": "datum.id === 0"}], "mark": {"type": "line", "color": "#1a0a00", "strokeWidth": 2.3}, "encoding": {}}
 ]},
{"title": "Sub Class 3, total: 67", "width": 89, "height": 111, "data": {"name": "c3"},
 "encoding": {"x": {"field": "k", "type": "ordinal", "sort": ["XCTT","JXZYP","ZJHB","Tb","Mg","BMPT"], "scale": {"type": "point", "padding": 0}, "axis": {"title": null}},
  "y": {"field": "v", "type": "quantitative", "scale": {"domain": [-3, 3]}, "axis": {"values": [-3,-2,-1,0,1,2,3], "title": "Standardised value"}}},
 "layer": [
  {"transform": [{"filter": "datum.id > 0"}], "mark": {"type": "line", "color": "#eec900", "opacity": 0.9}, "encoding": {"detail": {"field": "id"}}},
  {"transform": [{"filter": {"field": "id", "oneOf": [2, 12]}}], "mark": {"type": "line", "color": "#b8d42a", "opacity": 0.9}, "encoding": {"detail": {"field": "id"}}},
  {"transform": [{"filter": "datum.id === 0"}], "mark": {"type": "line", "color": "#1a0a00", "strokeWidth": 2.3}, "encoding": {}}
 ]},
{"title": "Sub Class 4, total: 27", "width": 89, "height": 111, "data": {"name": "c4"},
 "encoding": {"x": {"field": "k", "type": "ordinal", "sort": ["XCTT","JXZYP","ZJHB","Tb","Mg","BMPT"], "scale": {"type": "point", "padding": 0}, "axis": {"title": null}},
  "y": {"field": "v", "type": "quantitative", "scale": {"domain": [-2, 3]}, "axis": {"values": [-2,-1,0,1,2,3], "title": "Standardised value"}}},
 "layer": [
  {"transform": [{"filter": "datum.id > 0"}], "mark": {"type": "line", "color": "#a5de35", "opacity": 0.9}, "encoding": {"detail": {"field": "id"}}},
  {"transform": [{"filter": "datum.id === 0"}], "mark": {"type": "line", "color": "#111111", "strokeWidth": 2.3}, "encoding": {}}
 ]}
], "spacing": 47, "bounds": "flush"},
{"hconcat": [
{"title": "Sub Class 5, total: 42", "width": 89, "height": 113, "data": {"name": "c5"},
 "encoding": {"x": {"field": "k", "type": "ordinal", "sort": ["XCTT","JXZYP","ZJHB","Tb","Mg","BMPT"], "scale": {"type": "point", "padding": 0}, "axis": {"title": null, "offset": 5}},
  "y": {"field": "v", "type": "quantitative", "scale": {"domain": [-2, 3]}, "axis": {"values": [-2,-1,0,1,2,3], "title": "Standardised value"}}},
 "layer": [
  {"transform": [{"filter": "datum.id > 0"}], "mark": {"type": "line", "color": "#5ee39b", "opacity": 0.75}, "encoding": {"detail": {"field": "id"}}},
  {"transform": [{"filter": {"field": "id", "oneOf": [2, 5, 8, 13]}}], "mark": {"type": "line", "color": "#c2c09a", "opacity": 0.85}, "encoding": {"detail": {"field": "id"}}},
  {"transform": [{"filter": "datum.id === 0"}], "mark": {"type": "line", "color": "#111111", "strokeWidth": 2.3}, "encoding": {}}
 ]},
{"title": "Sub Class 6, total: 59", "width": 89, "height": 113, "data": {"name": "c6"},
 "encoding": {"x": {"field": "k", "type": "ordinal", "sort": ["XCTT","JXZYP","ZJHB","Tb","Mg","BMPT"], "scale": {"type": "point", "padding": 0}, "axis": {"title": null, "offset": 5}},
  "y": {"field": "v", "type": "quantitative", "scale": {"domain": [-2, 3]}, "axis": {"values": [-2,-1,0,1,2,3], "title": "Standardised value"}}},
 "layer": [
  {"transform": [{"filter": "datum.id > 0"}], "mark": {"type": "line", "color": "#5c9cef", "opacity": 0.9}, "encoding": {"detail": {"field": "id"}}},
  {"transform": [{"filter": {"field": "id", "oneOf": [2, 7, 12]}}], "mark": {"type": "line", "color": "#9b8be0", "opacity": 0.9}, "encoding": {"detail": {"field": "id"}}},
  {"transform": [{"filter": "datum.id === 0"}], "mark": {"type": "line", "color": "#111111", "strokeWidth": 2.3}, "encoding": {}}
 ]},
{"title": "Sub Class 7, total: 69", "width": 89, "height": 113, "data": {"name": "c7"},
 "encoding": {"x": {"field": "k", "type": "ordinal", "sort": ["XCTT","JXZYP","ZJHB","Tb","Mg","BMPT"], "scale": {"type": "point", "padding": 0}, "axis": {"title": null, "offset": 5}},
  "y": {"field": "v", "type": "quantitative", "scale": {"domain": [-3, 2]}, "axis": {"values": [-3,-2,-1,0,1,2], "title": "Standardised value"}}},
 "layer": [
  {"transform": [{"filter": "datum.id > 0"}], "mark": {"type": "line", "color": "#6e5acd", "opacity": 0.9}, "encoding": {"detail": {"field": "id"}}},
  {"transform": [{"filter": "datum.id === 0"}], "mark": {"type": "line", "color": "#111111", "strokeWidth": 2.3}, "encoding": {}}
 ]}
], "spacing": 48, "bounds": "flush"}
], "spacing": 31
}
